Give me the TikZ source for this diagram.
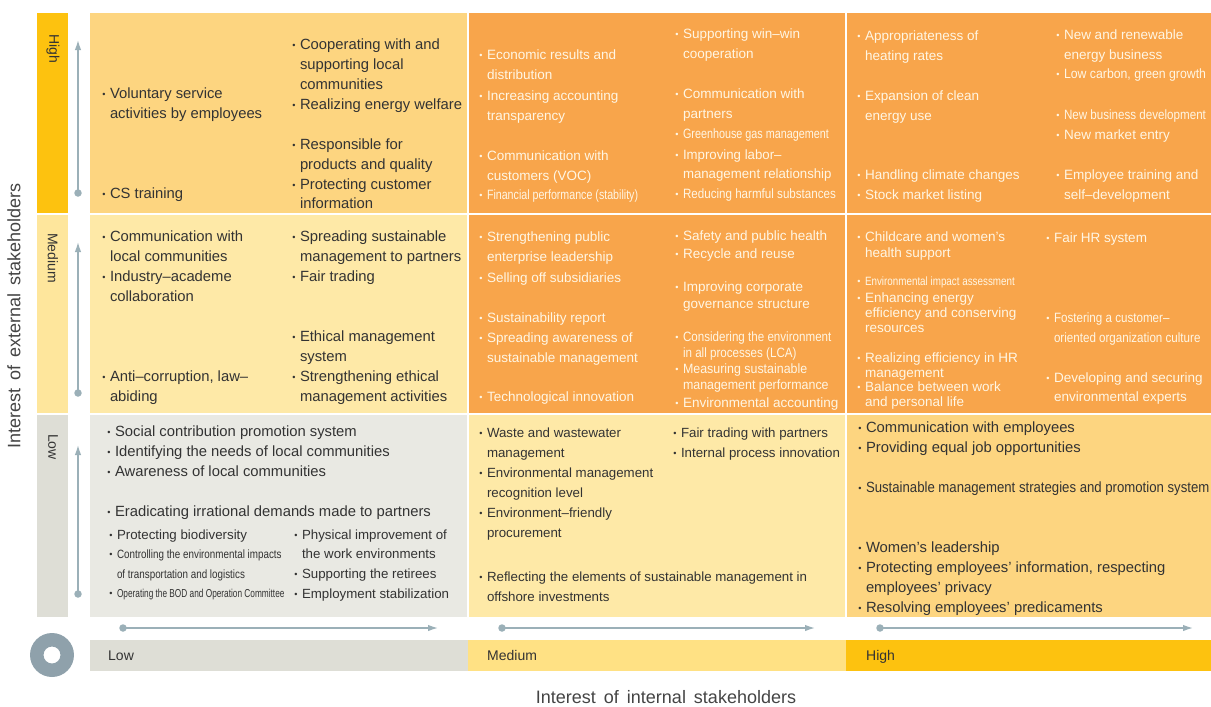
\documentclass[tikz,border=0pt]{standalone}
\usepackage{fontspec}
\setmainfont{Liberation Sans}
\usepackage{graphicx}
\usetikzlibrary{arrows.meta}
\definecolor{cOr}{HTML}{F8A54B}
\definecolor{cLo}{HTML}{FDD580}
\definecolor{cLy}{HTML}{FEE9A7}
\definecolor{cGr}{HTML}{E9E9E3}
\definecolor{cAmb}{HTML}{FDC20F}
\definecolor{cMy}{HTML}{FFE184}
\definecolor{cSm}{HTML}{FEE69C}
\definecolor{cSg}{HTML}{DEDED6}
\definecolor{cAr}{HTML}{9BB0B8}
\definecolor{cRing}{HTML}{8FA1AB}
\definecolor{cDk}{HTML}{333333}
\definecolor{cWt}{HTML}{FFF6E4}
\definecolor{cTitle}{HTML}{444444}
\newcommand\bul{\raisebox{1pt}{\fontsize{13}{13}\selectfont\scalebox{0.7}{\textbullet}}}
\newcommand\itm[4]{\llap{\bul\hspace{4.5pt}}\scalebox{#2}[1]{\fontsize{#1}{#3}\selectfont\begin{tabular}[t]{@{}l@{}}#4\end{tabular}}}
\tikzset{
  tx/.style={anchor=base west, inner sep=0pt, outer sep=0pt},
  dk/.style={tx, text=cDk},
  wt/.style={tx, text=cWt},
  arr/.style={draw=cAr, line width=1.4pt, -{Latex[length=10pt,width=6.5pt]}},
  dot/.style={circle, fill=cAr, inner sep=0pt, minimum size=7.5pt},
  axlab/.style={anchor=base west, inner sep=0pt, text=cDk, font=\fontsize{14}{16}\selectfont},
  sidelab/.style={rotate=-90, anchor=west, inner sep=0pt, text=cDk, font=\fontsize{14}{16}\selectfont},
  title/.style={inner sep=0pt, text=cTitle, font=\fontsize{18}{20}\selectfont}
}
\begin{document}
\begin{tikzpicture}[x=1pt,y=-1pt]
\useasboundingbox (0,0) rectangle (1211,707);
% cells
\fill[cLo] (90,13) rectangle (468,214);
\fill[cOr] (468,13) rectangle (846,214);
\fill[cOr] (846,13) rectangle (1213,214);
\fill[cLy] (90,214) rectangle (468,414);
\fill[cOr] (468,214) rectangle (846,414);
\fill[cOr] (846,214) rectangle (1213,414);
\fill[cGr] (90,414) rectangle (468,617);
\fill[cLy] (468,414) rectangle (846,617);
\fill[cLo] (846,414) rectangle (1213,617);
\draw[white, line width=2pt] (90,214) -- (1213,214) (90,414) -- (1213,414) (468,13) -- (468,617) (846,13) -- (846,617);
% side bar
\fill[cAmb] (37,13) rectangle (68,214);
\fill[cSm] (37,214) rectangle (68,414);
\fill[cSg] (37,414) rectangle (68,617);
\draw[white, line width=1.5pt] (37,214) -- (68,214) (37,414) -- (68,414);
% bottom bar
\fill[cSg] (90,640) rectangle (468,671);
\fill[cMy] (468,640) rectangle (846,671);
\fill[cAmb] (846,640) rectangle (1213,671);
% ring
\fill[cRing, even odd rule] (52,655) circle[radius=22pt] (52,655) circle[radius=8.5pt];
% side labels
\node[sidelab] (sh) at (53,34) {High};
\node[sidelab] (sm) at (53,233) {Medium};
\node[sidelab] (sl) at (53,434) {Low};
% bottom labels
\node[axlab] (bl) at (108,660) {Low};
\node[axlab] (bm) at (487,660) {Medium};
\node[axlab] (bh) at (866,660) {High};
% titles
\node[title] (xt) at (666,697) {Interest\, of\, internal\, stakeholders};
\node[title, rotate=90] (yt) at (14,316) {Interest\, of\, external\, stakeholders};
% vertical arrows
\node[dot] (vd1) at (78,193) {}; \coordinate (vt1) at (78,40);
\node[dot] (vd2) at (78,393) {}; \coordinate (vt2) at (78,242);
\node[dot] (vd3) at (78,594) {}; \coordinate (vt3) at (78,445);
\draw[arr] (vd1.center) -- (vt1);
\draw[arr] (vd2.center) -- (vt2);
\draw[arr] (vd3.center) -- (vt3);
% horizontal arrows
\node[dot] (hd1) at (123,628) {}; \coordinate (ht1) at (438,628);
\node[dot] (hd2) at (502,628) {}; \coordinate (ht2) at (815,628);
\node[dot] (hd3) at (880,628) {}; \coordinate (ht3) at (1193,628);
\draw[arr] (hd1.center) -- (ht1);
\draw[arr] (hd2.center) -- (ht2);
\draw[arr] (hd3.center) -- (ht3);
% TL
\node[dk] (a1) at (110,98) {\itm{14.8}{1}{20}{Voluntary service\\activities by employees}};
\node[dk] (a2) at (110,198) {\itm{14.8}{1}{20}{CS training}};
\node[dk] (a3) at (300,49) {\itm{14.8}{1}{20}{Cooperating with and\\supporting local\\communities}};
\node[dk] (a4) at (300,109) {\itm{14.8}{1}{20}{Realizing energy welfare}};
\node[dk] (a5) at (300,149) {\itm{14.8}{1}{20}{Responsible for\\products and quality}};
\node[dk] (a6) at (300,189) {\itm{14.8}{1}{19}{Protecting customer\\information}};
% TM
\node[wt] (b1) at (487,59) {\itm{13.5}{1}{20}{Economic results and\\distribution}};
\node[wt] (b2) at (487,100) {\itm{13.5}{1}{20}{Increasing accounting\\transparency}};
\node[wt] (b3) at (487,160) {\itm{13.5}{1}{20}{Communication with\\customers (VOC)}};
\node[wt] (b4) at (487,199) {\itm{13.5}{0.79}{20}{Financial performance (stability)}};
\node[wt] (b5) at (683,38) {\itm{13.5}{1}{20}{Supporting win–win\\cooperation}};
\node[wt] (b6) at (683,98) {\itm{13.5}{1}{20}{Communication with\\partners}};
\node[wt] (b7) at (683,138) {\itm{13.5}{0.8}{20}{Greenhouse gas management}};
\node[wt] (b8) at (683,159) {\itm{13.5}{0.98}{19}{Improving labor–\\management relationship}};
\node[wt] (b9) at (683,198) {\itm{13.5}{0.86}{20}{Reducing harmful substances}};
% TR
\node[wt] (c1) at (865,40) {\itm{13.5}{1}{20}{Appropriateness of\\heating rates}};
\node[wt] (c2) at (865,100) {\itm{13.5}{1}{20}{Expansion of clean\\energy use}};
\node[wt] (c3) at (865,179) {\itm{13.5}{1}{20}{Handling climate changes}};
\node[wt] (c4) at (865,199) {\itm{13.5}{1}{20}{Stock market listing}};
\node[wt] (c5) at (1064,39) {\itm{13.5}{1}{20}{New and renewable\\energy business}};
\node[wt] (c6) at (1064,78) {\itm{13.5}{0.91}{20}{Low carbon, green growth}};
\node[wt] (c7) at (1064,119) {\itm{13.5}{0.86}{20}{New business development}};
\node[wt] (c8) at (1064,139) {\itm{13.5}{1}{20}{New market entry}};
\node[wt] (c9) at (1064,179) {\itm{13.5}{1}{20}{Employee training and\\self–development}};
% ML
\node[dk] (d1) at (110,241) {\itm{14.8}{1}{20}{Communication with\\local communities}};
\node[dk] (d2) at (110,281) {\itm{14.8}{1}{20}{Industry–academe\\collaboration}};
\node[dk] (d3) at (110,381) {\itm{14.8}{1}{20}{Anti–corruption, law–\\abiding}};
\node[dk] (d4) at (300,241) {\itm{14.8}{1}{20}{Spreading sustainable\\management to partners}};
\node[dk] (d5) at (300,281) {\itm{14.8}{1}{20}{Fair trading}};
\node[dk] (d6) at (300,341) {\itm{14.8}{1}{20}{Ethical management\\system}};
\node[dk] (d7) at (300,381) {\itm{14.8}{1}{20}{Strengthening ethical\\management activities}};
% MM
\node[wt] (e1) at (487,241) {\itm{13.5}{1}{20}{Strengthening public\\enterprise leadership}};
\node[wt] (e2) at (487,282) {\itm{13.5}{1}{20}{Selling off subsidiaries}};
\node[wt] (e3) at (487,322) {\itm{13.5}{1}{20}{Sustainability report}};
\node[wt] (e4) at (487,342) {\itm{13.5}{1}{20}{Spreading awareness of\\sustainable management}};
\node[wt] (e5) at (487,401) {\itm{13.5}{1}{20}{Technological innovation}};
\node[wt] (e6) at (683,240) {\itm{13.5}{1}{20}{Safety and public health}};
\node[wt] (e7) at (683,258) {\itm{13.5}{1}{20}{Recycle and reuse}};
\node[wt] (e8) at (683,291) {\itm{13.5}{1}{17}{Improving corporate\\governance structure}};
\node[wt] (e9) at (683,341) {\itm{13.5}{0.86}{16}{Considering the environment\\in all processes (LCA)}};
\node[wt] (e10) at (683,373) {\itm{13.5}{0.92}{16}{Measuring sustainable\\management performance}};
\node[wt] (e11) at (683,407) {\itm{13.5}{1}{20}{Environmental accounting}};
% MR
\node[wt] (f1) at (865,241) {\itm{13.5}{1}{16}{Childcare and women’s\\health support}};
\node[wt] (f2) at (865,285) {\itm{12}{0.82}{16}{Environmental impact assessment}};
\node[wt] (f3) at (865,302) {\itm{13.5}{1}{15}{Enhancing energy\\efficiency and conserving\\resources}};
\node[wt] (f4) at (865,362) {\itm{13.5}{1}{15}{Realizing efficiency in HR\\management}};
\node[wt] (f5) at (865,391) {\itm{13.5}{1}{15}{Balance between work\\and personal life}};
\node[wt] (f6) at (1054,242) {\itm{13.5}{1}{20}{Fair HR system}};
\node[wt] (f7) at (1054,322) {\itm{13.5}{0.86}{20}{Fostering a customer–\\oriented organization culture}};
\node[wt] (f8) at (1054,382) {\itm{13.5}{1}{19}{Developing and securing\\environmental experts}};
% BL
\node[dk] (g1) at (115,436) {\itm{14.8}{1}{20}{Social contribution promotion system}};
\node[dk] (g2) at (115,456) {\itm{14.8}{1}{20}{Identifying the needs of local communities}};
\node[dk] (g3) at (115,476) {\itm{14.8}{1}{20}{Awareness of local communities}};
\node[dk] (g4) at (115,516) {\itm{14.8}{1}{20}{Eradicating irrational demands made to partners}};
\node[dk] (g5) at (117,539) {\itm{13.3}{1}{20}{Protecting biodiversity}};
\node[dk] (g6) at (117,558) {\itm{12}{0.82}{20}{Controlling the environmental impacts\\of transportation and logistics}};
\node[dk] (g7) at (117,597) {\itm{11.5}{0.72}{20}{Operating the BOD and Operation Committee}};
\node[dk] (g8) at (302,539) {\itm{13.3}{1}{19}{Physical improvement of\\the work environments}};
\node[dk] (g9) at (302,578) {\itm{13.3}{1}{20}{Supporting the retirees}};
\node[dk] (g10) at (302,598) {\itm{13.3}{1}{20}{Employment stabilization}};
% BM
\node[dk] (h1) at (487,437) {\itm{13.3}{1}{20}{Waste and wastewater\\management}};
\node[dk] (h2) at (487,477) {\itm{13.3}{1}{20}{Environmental management\\recognition level}};
\node[dk] (h3) at (487,517) {\itm{13.3}{1}{20}{Environment–friendly\\procurement}};
\node[dk] (h4) at (487,581) {\itm{13.3}{1}{20}{Reflecting the elements of sustainable management in\\offshore investments}};
\node[dk] (h5) at (681,437) {\itm{13.3}{1}{20}{Fair trading with partners}};
\node[dk] (h6) at (681,457) {\itm{13.3}{1}{20}{Internal process innovation}};
% BR
\node[dk] (i1) at (866,432) {\itm{14.8}{1}{20}{Communication with employees}};
\node[dk] (i2) at (866,452) {\itm{14.8}{1}{20}{Providing equal job opportunities}};
\node[dk] (i3) at (866,492) {\itm{14.8}{0.89}{20}{Sustainable management strategies and promotion system}};
\node[dk] (i4) at (866,552) {\itm{14.8}{1}{20}{Women’s leadership}};
\node[dk] (i5) at (866,572) {\itm{14.8}{1}{20}{Protecting employees’ information, respecting\\employees’ privacy}};
\node[dk] (i6) at (866,612) {\itm{14.8}{1}{20}{Resolving employees’ predicaments}};
\end{tikzpicture}
\end{document}
